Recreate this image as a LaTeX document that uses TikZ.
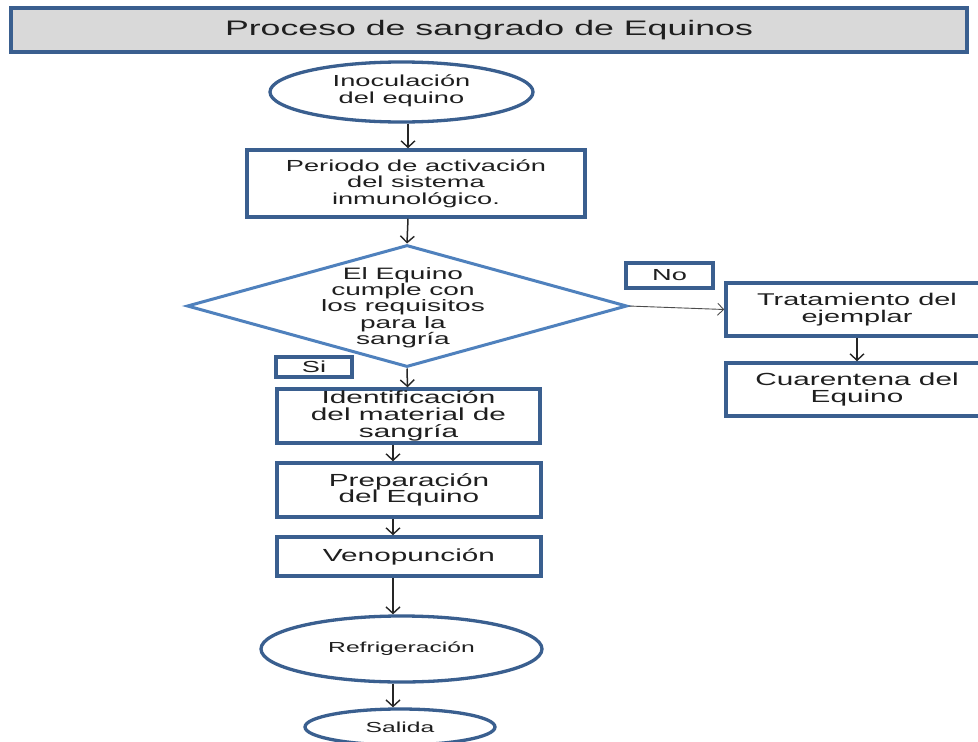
\documentclass[tikz,border=0pt]{standalone}
\usepackage{fontspec}
\setmainfont[FakeStretch=1.7]{Liberation Sans}
\usetikzlibrary{shapes.geometric,arrows.meta}
\definecolor{boxblue}{HTML}{3A5F8F}
\definecolor{diablue}{HTML}{4F81BD}
\definecolor{titlegray}{HTML}{D9D9D9}
\definecolor{txt}{HTML}{1F1F1F}
\newcommand\myfs[2]{\fontsize{#1}{#2}\selectfont}
\tikzset{
  pbox/.style={draw=boxblue,line width=3.5pt,fill=white,rectangle,inner sep=0pt,align=center,text=txt},
  pell/.style={draw=boxblue,line width=3.3pt,fill=white,ellipse,inner sep=0pt,align=center,text=txt},
  arr/.style={draw=black!85,line width=1.5pt,-{Straight Barb[length=6.5pt,width=14pt,line width=1.4pt]}},
  thinarr/.style={draw=black!70,line width=0.9pt,-{Straight Barb[length=6pt,width=12pt,line width=0.9pt]}}
}
\begin{document}
\begin{tikzpicture}[x=1pt,y=-1pt]
\useasboundingbox (0,0) rectangle (978,742);
\clip (0,0) rectangle (978,742);
\fill[white] (0,0) rectangle (978,742);
% title
\node[pbox,fill=titlegray,minimum width=956pt,minimum height=44pt,font=\myfs{21}{21}] (title) at (489,30) {Proceso de sangrado de Equinos};
% main column
\node[pell,minimum width=263pt,minimum height=60pt,font=\myfs{16}{17}] (inoc) at (401.5,92) {\raisebox{-4pt}{\begin{tabular}{@{}c@{}}Inoculación\\del equino\end{tabular}}};
\node[pbox,minimum width=338pt,minimum height=67pt,font=\myfs{16}{16.5}] (periodo) at (416,183.5) {Periodo de activación\\del sistema\\inmunológico.};
\node[diamond,draw=diablue,line width=3pt,fill=white,inner sep=0pt,minimum width=440pt,minimum height=122pt] (dec) at (407,306) {};
\node[align=center,text=txt,font=\myfs{16.5}{16.3},inner sep=0pt] (dectext) at (403,307.5) {El Equino\\cumple con\\los requisitos\\para la\\sangría};
\node[pbox,minimum width=87pt,minimum height=25pt,font=\myfs{16}{16}] (no) at (669.5,275.5) {No};
\node[pbox,minimum width=76pt,minimum height=20pt,font=\myfs{16}{16}] (si) at (314,367) {Si};
\node[pbox,minimum width=262pt,minimum height=53pt,font=\myfs{17}{16.5}] (trat) at (857,309.5) {Tratamiento del\\ejemplar};
\node[pbox,minimum width=262pt,minimum height=53pt,font=\myfs{17.5}{16.5}] (cuar) at (857,389.5) {Cuarentena del\\Equino};
\node[pbox,minimum width=263pt,minimum height=54pt,font=\myfs{17.5}{17}] (ident) at (408.5,416) {Identificación\\del material de\\sangría};
\node[pbox,minimum width=264pt,minimum height=54pt,font=\myfs{17.5}{16.5}] (prep) at (409,490) {Preparación\\del Equino};
\node[pbox,minimum width=264pt,minimum height=39pt,font=\myfs{17.5}{17}] (veno) at (409,556.5) {Venopunción};
\node[pell,minimum width=281pt,minimum height=66pt,font=\myfs{14.5}{15}] (refr) at (401.5,649) {Refrigeración};
\node[pell,minimum width=190pt,minimum height=36pt,font=\myfs{14.5}{15}] (salida) at (400,727) {Salida};
% connectors
\draw[arr] ([xshift=6.5pt]inoc.south) -- ([xshift=-8pt]periodo.north);
\draw[arr] ([xshift=-8pt]periodo.south) -- (dec.north);
\draw[thinarr] (dec.east) -- (trat.west);
\draw[arr] (trat.south) -- (cuar.north);
\draw[arr] (dec.south) -- ([xshift=-1pt]ident.north);
\draw[arr] ([xshift=-15.5pt]ident.south) -- ([xshift=-16pt]prep.north);
\draw[arr] ([xshift=-16pt]prep.south) -- ([xshift=-16pt]veno.north);
\draw[arr] ([xshift=-16pt]veno.south) -- ([xshift=-8.5pt]refr.south |- refr.north);
\draw[arr] ([xshift=-8.5pt]refr.south) -- ([xshift=-7pt]salida.north);
\end{tikzpicture}
\end{document}
